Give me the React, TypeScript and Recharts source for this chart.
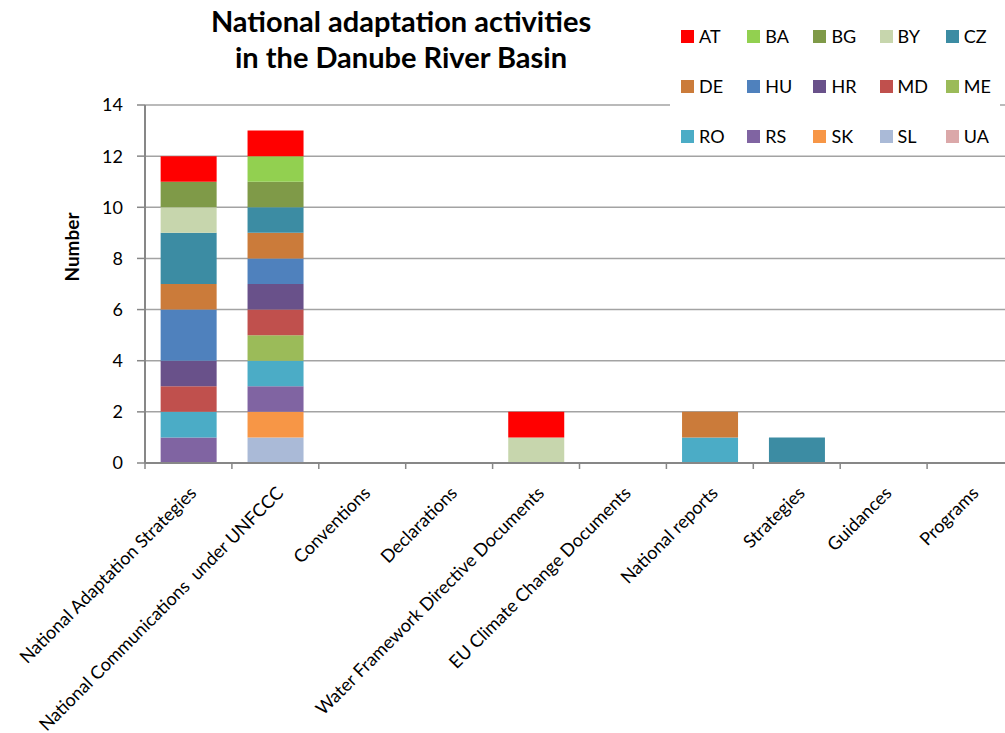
import { Bar, BarChart, CartesianGrid, XAxis, YAxis } from 'recharts'

const categories = [
  'National Adaptation Strategies',
  'National Communications  under UNFCCC',
  'Conventions',
  'Declarations',
  'Water Framework Directive Documents',
  'EU Climate Change Documents',
  'National reports',
  'Strategies',
  'Guidances',
  'Programs',
]

const countries = ['AT', 'BA', 'BG', 'BY', 'CZ', 'DE', 'HU', 'HR', 'MD', 'ME', 'RO', 'RS', 'SK', 'SL', 'UA']

const countryColors = [
  '#FF0000', '#92D050', '#7F9A48', '#C7D6AD', '#3C8CA3',
  '#CB7B3A', '#4F81BD', '#69518A', '#C0504D', '#9BBB59',
  '#4BACC6', '#8064A2', '#F79646', '#AABAD7', '#DBA8A9',
]

// activities per country, one entry per category
const AT = [1, 1, 0, 0, 1, 0, 0, 0, 0, 0]
const BA = [0, 1, 0, 0, 0, 0, 0, 0, 0, 0]
const BG = [1, 1, 0, 0, 0, 0, 0, 0, 0, 0]
const BY = [1, 0, 0, 0, 1, 0, 0, 0, 0, 0]
const CZ = [2, 1, 0, 0, 0, 0, 0, 1, 0, 0]
const DE = [1, 1, 0, 0, 0, 0, 1, 0, 0, 0]
const HU = [2, 1, 0, 0, 0, 0, 0, 0, 0, 0]
const HR = [1, 1, 0, 0, 0, 0, 0, 0, 0, 0]
const MD = [1, 1, 0, 0, 0, 0, 0, 0, 0, 0]
const ME = [0, 1, 0, 0, 0, 0, 0, 0, 0, 0]
const RO = [1, 1, 0, 0, 0, 0, 1, 0, 0, 0]
const RS = [1, 1, 0, 0, 0, 0, 0, 0, 0, 0]
const SK = [0, 1, 0, 0, 0, 0, 0, 0, 0, 0]
const SL = [0, 1, 0, 0, 0, 0, 0, 0, 0, 0]
const UA = [0, 0, 0, 0, 0, 0, 0, 0, 0, 0]

const yTicks = [0, 2, 4, 6, 8, 10, 12, 14]

const seriesValues = [AT, BA, BG, BY, CZ, DE, HU, HR, MD, ME, RO, RS, SK, SL, UA]

const chartData = categories.map((name, i) => {
  const row: Record<string, string | number> = { name }
  countries.forEach((c, k) => {
    row[c] = seriesValues[k][i]
  })
  return row
})

const FONT = 'Lato, "Noto Sans", sans-serif'
const AXIS_GREY = '#878787'

function CategoryTick(props: any) {
  const { x, y, payload } = props
  const half = payload.offset ?? 0
  return (
    <g>
      {/* Excel-style tick marks sit between categories */}
      <line x1={x - half} x2={x - half} y1={463} y2={469} stroke={AXIS_GREY} strokeWidth={1.5} />
      {payload.index === categories.length - 1 && (
        <line x1={x + half} x2={x + half} y1={463} y2={469} stroke={AXIS_GREY} strokeWidth={1.5} />
      )}
      <g transform={`translate(${x},${y})`}>
        <text
          transform="rotate(-45)"
          textAnchor="end"
          dy="0.72em"
          fontSize={18}
          fontFamily={FONT}
          fill="#000"
          style={{ whiteSpace: 'pre' }}
        >
          {payload.value}
        </text>
      </g>
    </g>
  )
}

function NumberLabel() {
  return (
    <text
      x={79}
      y={247}
      transform="rotate(-90, 79, 247)"
      textAnchor="middle"
      fontSize={19}
      fontWeight="bold"
      fontFamily={FONT}
      fill="#000"
    >
      Number
    </text>
  )
}

function LegendBox() {
  return (
    <div
      style={{
        position: 'absolute',
        left: 670,
        top: 12,
        width: 330,
        height: 142,
        background: '#fff',
        fontFamily: FONT,
        fontSize: 18,
        color: '#000',
      }}
    >
      {countries.map((c, i) => (
        <div
          key={c}
          style={{
            position: 'absolute',
            left: 11 + (i % 5) * 66.2,
            top: 13 + Math.floor(i / 5) * 50,
            display: 'flex',
            alignItems: 'center',
            height: 22,
          }}
        >
          <span style={{ width: 13, height: 13, background: countryColors[i], display: 'inline-block' }} />
          <span style={{ marginLeft: 5 }}>{c}</span>
        </div>
      ))}
    </div>
  )
}

export default function App() {
  const stackOrder = countries.map((c, i) => ({ c, color: countryColors[i] })).reverse()
  return (
    <div
      style={{
        position: 'absolute',
        left: 0,
        top: 0,
        width: 1005,
        height: 733,
        overflow: 'hidden',
        background: '#fff',
      }}
    >
      <div
        style={{
          position: 'absolute',
          left: 151,
          width: 500,
          top: 3,
          textAlign: 'center',
          fontFamily: FONT,
          fontWeight: 'bold',
          fontSize: 29,
          lineHeight: '36px',
          color: '#000',
        }}
      >
        National adaptation activities
        <br />
        in the Danube River Basin
      </div>
      <BarChart
        width={1030}
        height={733}
        data={chartData}
        margin={{ top: 105, right: 16, left: 0, bottom: 0 }}
        barCategoryGap="18%"
        style={{ position: 'absolute', left: 0, top: 0 }}
      >
        <CartesianGrid vertical={false} stroke="#a3a3a3" strokeWidth={1.5} />
        <XAxis
          dataKey="name"
          height={270}
          interval={0}
          tickLine={false}
          axisLine={{ stroke: AXIS_GREY, strokeWidth: 2 }}
          tickMargin={16}
          tick={<CategoryTick />}
        />
        <YAxis
          width={145}
          domain={[0, 14]}
          ticks={yTicks}
          interval={0}
          tickSize={8}
          tickMargin={14}
          tickLine={{ stroke: AXIS_GREY, strokeWidth: 1.5 }}
          axisLine={{ stroke: AXIS_GREY, strokeWidth: 2 }}
          tick={{ fontSize: 18, fontFamily: FONT, fill: '#000' }}
          label={<NumberLabel />}
        />
        {stackOrder.map(({ c, color }) => (
          <Bar key={c} dataKey={c} stackId="a" fill={color} isAnimationActive={false} />
        ))}
      </BarChart>
      <LegendBox />
    </div>
  )
}
